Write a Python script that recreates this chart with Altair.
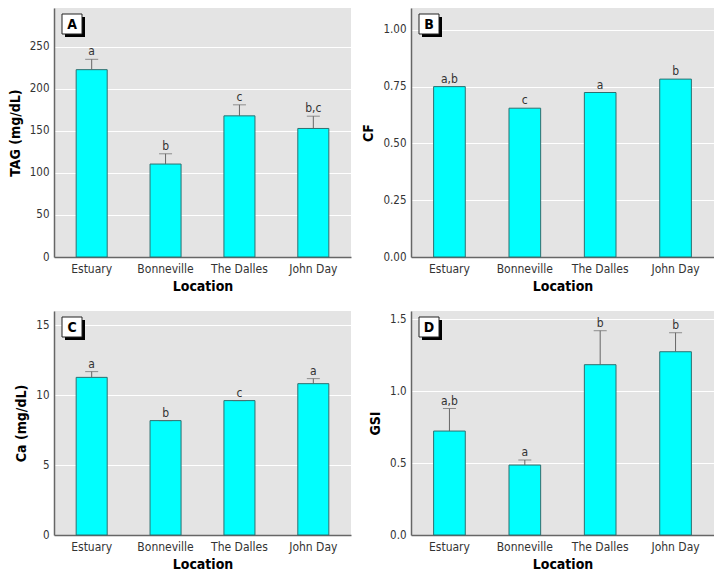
import altair as alt
import pandas as pd

locations = ["Estuary", "Bonneville", "The Dalles", "John Day"]

tag_mean = [222.7, 110.5, 167.8, 152.8]
tag_err = [235.0, 122.7, 180.9, 167.4]
tag_sig = ["a", "b", "c", "b,c"]

cf_mean = [0.750, 0.655, 0.724, 0.783]
cf_err = [0.750, 0.655, 0.724, 0.783]
cf_sig = ["a,b", "c", "a", "b"]

ca_mean = [11.26, 8.17, 9.60, 10.81]
ca_err = [11.67, 8.17, 9.60, 11.17]
ca_sig = ["a", "b", "c", "a"]

gsi_mean = [0.722, 0.486, 1.183, 1.273]
gsi_err = [0.878, 0.521, 1.419, 1.405]
gsi_sig = ["a,b", "a", "b", "b"]

FONT = "DejaVu Sans Condensed, sans-serif"


def panel(letter, ytitle, mean, err, sig, ymax, ticks, fmt, width, height, show_err=True):
    df = pd.DataFrame({"loc": locations, "mean": mean, "err": err, "sig": sig})
    x = alt.X("loc:N", sort=locations, title="Location",
              scale=alt.Scale(paddingInner=0.58, paddingOuter=0.3),
              axis=alt.Axis(labelAngle=0, ticks=False, labelPadding=6, titlePadding=5,
                            domainColor="#666666", domainWidth=1.5, labelColor="#333333",
                            labelFontSize=12, titleFontSize=14, titleFontWeight="bold",
                            labelFont=FONT, titleFont=FONT, grid=False))
    y = alt.Y("mean:Q", title=ytitle,
              scale=alt.Scale(domain=[0, ymax], nice=False),
              axis=alt.Axis(values=ticks, format=fmt, ticks=False, labelPadding=5,
                            titlePadding=7, domainColor="#666666", domainWidth=1.5,
                            labelColor="#333333",
                            labelFontSize=11.5, titleFontSize=14, titleFontWeight="bold",
                            labelFont=FONT, titleFont=FONT, grid=True,
                            gridColor="white", gridWidth=1.2))
    base = alt.Chart(df)
    layers = []
    if show_err:
        layers.append(base.mark_rule(color="#666666", strokeWidth=1).encode(
            x=alt.X("loc:N", sort=locations), y="mean:Q", y2="err:Q"))
        layers.append(base.mark_tick(color="#666666", thickness=1, size=13).encode(
            x=alt.X("loc:N", sort=locations), y="err:Q"))
    bars = base.mark_bar(color="#00FFFF", stroke="#2F6F6F", strokeWidth=1).encode(x=x, y=y)
    layers = [bars] + layers
    labels = base.mark_text(dy=-8, fontSize=12, color="#333333", font=FONT).encode(
        x=alt.X("loc:N", sort=locations), y="err:Q", text="sig:N")
    layers.append(labels)
    ldf = pd.DataFrame({"t": [letter]})
    shadow = alt.Chart(ldf).mark_rect(color="black").encode(
        x=alt.value(11), x2=alt.value(31), y=alt.value(9), y2=alt.value(29))
    box = alt.Chart(ldf).mark_rect(color="white", stroke="#222222", strokeWidth=1).encode(
        x=alt.value(8), x2=alt.value(28), y=alt.value(6), y2=alt.value(26))
    ltxt = alt.Chart(ldf).mark_text(fontSize=14, fontWeight="bold", font=FONT,
                                     color="black").encode(
        x=alt.value(18), y=alt.value(17), text="t:N")
    layers += [shadow, box, ltxt]
    return alt.layer(*layers).properties(width=width, height=height)


pa = panel("A", "TAG (mg/dL)", tag_mean, tag_err, tag_sig, 296, [0, 50, 100, 150, 200, 250], "d", 297, 249)
pb = panel("B", "CF", cf_mean, cf_err, cf_sig, 1.096, [0, 0.25, 0.5, 0.75, 1.0], ".2f", 303, 249, show_err=False)
pc = panel("C", "Ca (mg/dL)", ca_mean, ca_err, ca_sig, 16, [0, 5, 10, 15], "d", 297, 224)
pd_ = panel("D", "GSI", gsi_mean, gsi_err, gsi_sig, 1.556, [0, 0.5, 1.0, 1.5], ".1f", 303, 224)

chart = alt.concat(pa, pb, pc, pd_, columns=2, spacing={"row": 18, "column": 10}).properties(
    padding={"left": 0, "top": 0, "right": 0, "bottom": 0}
).configure_view(
    fill="#E4E4E4", stroke=None
)

chart.save("out.html", embed_options={"renderer": "svg", "actions": False})
